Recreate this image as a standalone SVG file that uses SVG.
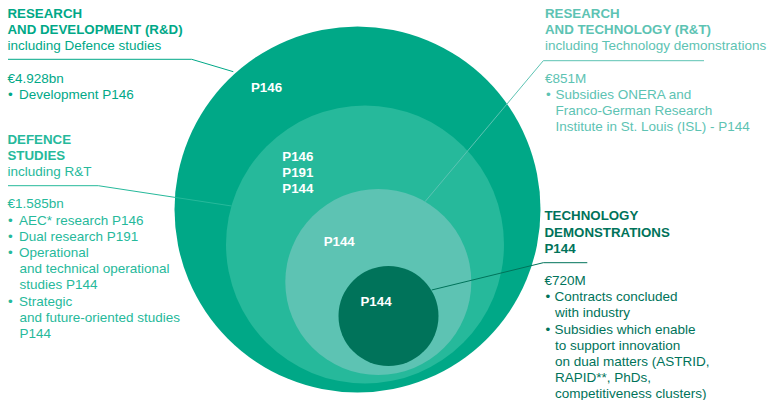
<svg xmlns="http://www.w3.org/2000/svg" width="772" height="400" viewBox="0 0 772 400">
<style>
text{font-family:"Liberation Sans",Arial,sans-serif;font-size:13.5px}
.b{font-weight:bold;font-size:13.3px}
.lbl{fill:#ffffff;font-weight:bold;font-size:13.3px}
.c1{fill:#00a887}
.c2{fill:#26b99b}
.c3{fill:#5dc3b3}
.c4{fill:#00735a}
.ln{fill:none;stroke-width:1}
</style>
<rect width="772" height="400" fill="#ffffff"/>
<g id="node-rd">
<circle cx="357.5" cy="209.5" r="183" class="c1"/>
<text class="lbl" x="251" y="91.7">P146</text>
</g>
<g id="node-defence">
<circle cx="365" cy="244.5" r="139" class="c2"/>
<text class="lbl" x="282.3" y="160.7">P146</text>
<text class="lbl" x="282.3" y="176.7">P191</text>
<text class="lbl" x="282.3" y="192.5">P144</text>
</g>
<g id="node-rt">
<circle cx="378.3" cy="282" r="93" class="c3"/>
<text class="lbl" x="323.7" y="245.7">P144</text>
</g>
<g id="node-td">
<circle cx="388.5" cy="316" r="50" class="c4"/>
<text class="lbl" x="360.5" y="306">P144</text>
</g>
<g id="connectors">
<polyline class="ln" stroke="#00a887" points="8,59.3 191.7,59.3 233.3,71.7"/>
<polyline class="ln" stroke="#26b99b" points="8,185.7 98.3,185.7 231.7,206"/>
<polyline class="ln" stroke="#5dc3b3" points="704,60.7 543.3,60.7 425,201.7"/>
<polyline class="ln" stroke="#00735a" points="587.3,262.7 543.3,262.7 431.7,290"/>
</g>
<g id="text-rd" class="c1">
<text class="b" x="7.5" y="17.7">RESEARCH</text>
<text class="b" x="7.5" y="33.5">AND DEVELOPMENT (R&amp;D)</text>
<text x="7.5" y="50">including Defence studies</text>
<text x="7.5" y="82.7">€4.928bn</text>
<text x="8" y="99">•</text><text x="19" y="99">Development P146</text>
</g>
<g id="text-defence" class="c2">
<text class="b" x="7.5" y="144">DEFENCE</text>
<text class="b" x="7.5" y="160">STUDIES</text>
<text x="7.5" y="175.7">including R&amp;T</text>
<text x="7.5" y="208.3">€1.585bn</text>
<text x="8" y="224.5">•</text><text x="19" y="224.5">AEC* research P146</text>
<text x="8" y="240.7">•</text><text x="19" y="240.7">Dual research P191</text>
<text x="8" y="256.9">•</text><text x="19" y="256.9">Operational</text>
<text x="19.5" y="273.1">and technical operational</text>
<text x="19.5" y="289.3">studies P144</text>
<text x="8" y="305.5">•</text><text x="19" y="305.5">Strategic</text>
<text x="19.5" y="321.7">and future-oriented studies</text>
<text x="19.5" y="337.9">P144</text>
</g>
<g id="text-rt" class="c3">
<text class="b" x="545" y="18.3">RESEARCH</text>
<text class="b" x="545" y="34.3">AND TECHNOLOGY (R&amp;T)</text>
<text x="545" y="50">including Technology demonstrations</text>
<text x="545" y="83.3">€851M</text>
<text x="546" y="99.3">•</text><text x="555.5" y="99.3">Subsidies ONERA and</text>
<text x="555.5" y="115.3">Franco-German Research</text>
<text x="555.5" y="131.3">Institute in St. Louis (ISL) - P144</text>
</g>
<g id="text-td" class="c4">
<text class="b" x="544.5" y="220">TECHNOLOGY</text>
<text class="b" x="544.5" y="236.5">DEMONSTRATIONS</text>
<text class="b" x="544.5" y="252.7">P144</text>
<text x="544.5" y="285">€720M</text>
<text x="545.5" y="301.2">•</text><text x="554.5" y="301.2">Contracts concluded</text>
<text x="555" y="317.4">with industry</text>
<text x="545.5" y="333.6">•</text><text x="554.5" y="333.6">Subsidies which enable</text>
<text x="555" y="349.8">to support innovation</text>
<text x="555" y="366">on dual matters (ASTRID,</text>
<text x="555" y="382.2">RAPID**, PhDs,</text>
<text x="555" y="398.4">competitiveness clusters)</text>
</g>
</svg>
